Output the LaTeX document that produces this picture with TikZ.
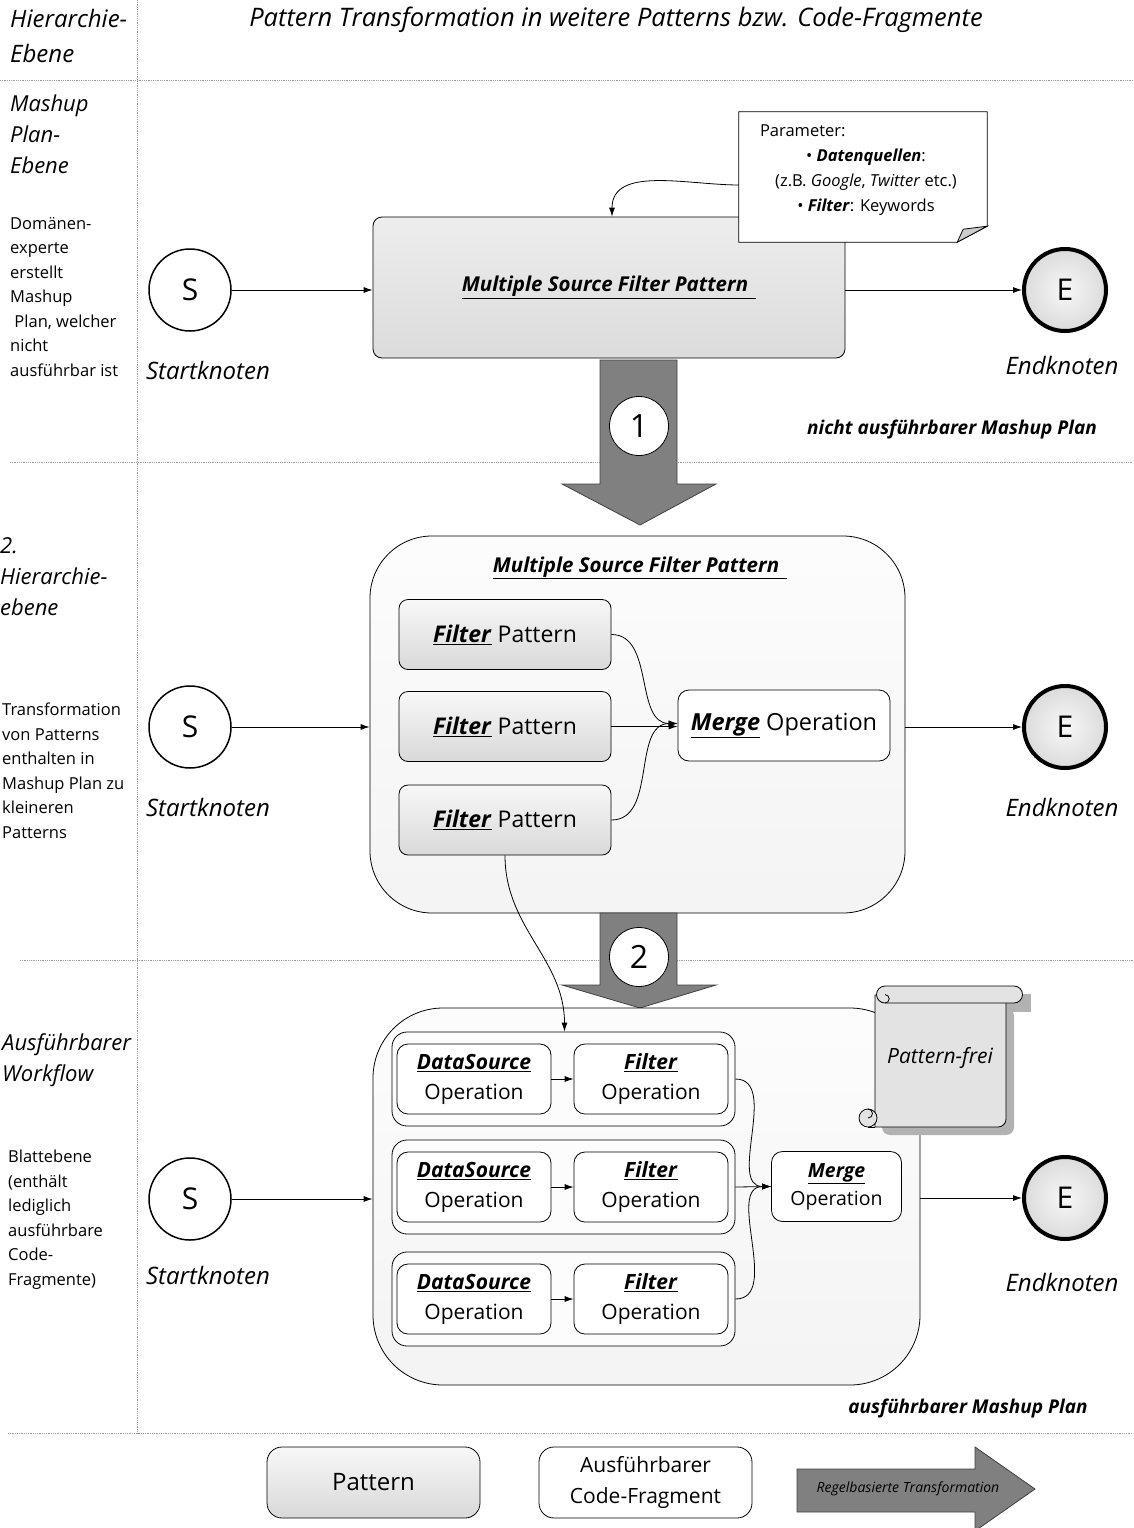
\documentclass[tikz,border=0pt]{standalone}
\usepackage{fontspec}
\setmainfont{Open Sans}
\usetikzlibrary{arrows.meta}
\newcommand{\fsz}[2]{\fontsize{#1}{#2}\selectfont}
\newcommand{\kw}[1]{\underline{\textbf{\textit{#1}}}}
\tikzset{
  sepline/.style={densely dotted, gray!80, line width=0.8pt},
  lvltitle/.style={anchor=north west, align=left, inner sep=0pt, font=\fsz{22}{31}\itshape},
  lvltext/.style={anchor=north west, align=left, inner sep=0pt, font=\fsz{16.5}{24.5}},
  knot/.style={circle, draw, line width=1.5pt, minimum size=82pt, inner sep=0pt, font=\fsz{30}{36}},
  startknot/.style={knot, fill=white},
  endknot/.style={knot, line width=4pt, inner color=gray!6, outer color=gray!28},
  knotlabel/.style={font=\fsz{24}{30}\itshape},
  patbox/.style={draw, rounded corners=9pt, top color=gray!6, bottom color=gray!30, line width=0.8pt},
  opbox/.style={draw, rounded corners=11pt, fill=white, line width=0.8pt, align=center},
  groupbox/.style={draw, rounded corners=15pt, fill=gray!2, line width=0.8pt, minimum width=343pt, minimum height=94pt},
  bigbox/.style={draw, line width=0.8pt, top color=gray!2, bottom color=gray!9},
  conn/.style={-{Latex[length=9pt,width=6pt]}, line width=0.8pt},
  bigarrow/.style={draw=black!75, fill=gray, line width=0.8pt},
  numcirc/.style={circle, draw, fill=white, line width=0.8pt, minimum size=59pt, inner sep=0pt, font=\fsz{32}{36}},
  planlabel/.style={font=\fsz{19}{24}\bfseries\itshape},
  scroll/.style={draw, fill=gray!22, line width=0.8pt}
}

\begin{document}
\begin{tikzpicture}[x=1pt, y=-1pt]
\useasboundingbox (0,0) rectangle (1133,1528);
\draw[sepline] (137,0) -- (137,1434);
\draw[sepline] (0,80) -- (1133,80);
\draw[sepline] (10,462) -- (1133,462);
\draw[sepline] (20,960) -- (1133,960);
\draw[sepline] (8,1433) -- (1133,1433);

\node[lvltitle, font=\fsz{24}{35}\itshape] at (10,9) {Hierarchie-\\Ebene};
\node[font=\fsz{25.5}{30}\itshape] (title) at (616,20) {Pattern Transformation in weitere Patterns bzw. Code-Fragmente};

\node[lvltitle] at (10,95) {Mashup\\Plan-\\Ebene};
\node[lvltext] at (10,217) {Domänen-\\experte\\erstellt\\Mashup\\\ Plan, welcher\\nicht\\ausführbar ist};
\node[startknot] (s1) at (190,290) {S};
\node[knotlabel] at (208,370) {Startknoten};
\node[patbox, top color=gray!14, bottom color=gray!28, minimum width=472pt, minimum height=141pt, font=\fsz{20.5}{24}] (msf) at (609,287.5) {\underline{\textbf{\textit{Multiple Source Filter Pattern}}\hspace{8pt}}};
\node[endknot] (e1) at (1065,290) {E};
\node[knotlabel] at (1062,365) {Endknoten};
\draw[conn] (s1) -- (s1 -| msf.west);
\draw[conn] (msf.east |- e1) -- (e1);

\path (863,177) node[minimum width=248pt, minimum height=130pt] (note) {};
\draw[line width=0.8pt, fill=white] (note.north west) -- (note.north east) -- ([yshift=16pt]note.south east) -- ([xshift=-30pt]note.south east) -- (note.south west) -- cycle;
\draw[line width=0.8pt, fill=gray!40] ([xshift=-30pt]note.south east) -- ([xshift=-24pt, yshift=13pt]note.south east) -- ([yshift=16pt]note.south east) -- cycle;
\node[align=center, font=\fsz{16.5}{25}] at (866,170) {\makebox[212pt][l]{Parameter:}\\
  • \textbf{\textit{Datenquellen}}:\\
  (z.B. \textit{Google}, \textit{Twitter} etc.)\\
  • \textbf{\textit{Filter}}: Keywords};
\draw[conn] ([yshift=-8pt]note.west) to[out=180, in=90] ([xshift=3pt]msf.north);

\draw[bigarrow] (600,360) -- (677,360) -- (677,484) -- (716,484) -- (640,525) -- (562,484) -- (600,484) -- cycle;
\node[numcirc] (n1) at (639,426) {1};
\node[planlabel] at (952,430) {nicht ausführbarer Mashup Plan};

\node[lvltitle] at (0,537) {2.\\Hierarchie-\\ebene};
\node[lvltext] at (2,703) {Transformation\\von Patterns\\enthalten in\\Mashup Plan zu\\kleineren\\Patterns};
\node[startknot] (s2) at (190,727) {S};
\node[knotlabel] at (208,807) {Startknoten};
\node[bigbox, rounded corners=62pt, minimum width=535pt, minimum height=377pt] (msf2) at (637.5,724.5) {};
\node[font=\fsz{20.5}{24}] (msf2title) at (640,568) {\underline{\textbf{\textit{Multiple Source Filter Pattern}}\hspace{8pt}}};
\foreach \y [count=\i] in {634.5,726.5,820} {
  \node[patbox, minimum width=212pt, minimum height=70pt, font=\fsz{23}{28}] (fp\i) at (505,\y) {\kw{Filter} Pattern};
}
\node[opbox, minimum width=212pt, minimum height=71pt, font=\fsz{23.5}{28}] (mop) at (784,725.5) {\kw{Merge} Operation};
\draw[conn] (fp1.east) to[out=0, in=180] ([yshift=2pt]mop.west);
\draw[conn] (fp2.east) -- (fp2.east -| mop.west);
\draw[conn] (fp3.east) to[out=0, in=180] ([yshift=2pt]mop.west);
\node[endknot] (e2) at (1065,727) {E};
\node[knotlabel] at (1062,807) {Endknoten};
\draw[conn] (s2) -- (s2 -| msf2.west);
\draw[conn] (msf2.east |- e2) -- (e2);

\draw[bigarrow] (600,913) -- (677,913) -- (677,985) -- (716,985) -- (640,1008) -- (562,985) -- (600,985) -- cycle;
\node[numcirc] (n2) at (639,957) {2};

\node[lvltitle] at (2,1033) {Ausführbarer\\Workflow};
\node[lvltext] at (8,1150) {Blattebene\\(enthält\\lediglich\\ausführbare\\Code-\\Fragmente)};
\node[startknot] (s3) at (190,1199) {S};
\node[knotlabel] at (208,1275) {Startknoten};
\node[bigbox, rounded corners=70pt, minimum width=547pt, minimum height=377pt] (wf) at (646.5,1196.5) {};
\foreach \y [count=\i] in {1079,1187,1299} {
  \node[groupbox] (grp\i) at (563.5,\y) {};
  \node[opbox, minimum width=154pt, minimum height=70pt, font=\fsz{21}{30}] (ds\i) at (474,\y) {\kw{DataSource}\\Operation};
  \node[opbox, minimum width=154pt, minimum height=70pt, font=\fsz{21}{30}] (fo\i) at (651,\y) {\kw{Filter}\\Operation};
  \draw[conn] (ds\i) -- (fo\i);
}
\node[opbox, minimum width=130pt, minimum height=70pt, font=\fsz{19.5}{28}] (mop3) at (836.5,1186.5) {\kw{Merge}\\Operation};
\draw[conn] (grp1.east) to[out=0, in=180] (mop3.west);
\draw[conn] (grp2.east) -- (mop3.west);
\draw[conn] (grp3.east) to[out=0, in=180] (mop3.west);
\draw[conn] (fp3.south) to[out=-90, in=90] ([xshift=1pt]grp1.north);
\node[endknot] (e3) at (1065,1198) {E};
\node[knotlabel] at (1062,1282) {Endknoten};
\draw[conn] (s3) -- (s3 -| wf.west);
\draw[conn] (wf.east |- e3) -- (e3);

\fill[gray!60] (1000,994) rectangle (1031,1012);
\fill[gray!60, rounded corners=8pt] (882,1008) rectangle (1014,1135);
\draw[scroll] (875,995) -- (875,1127) [rounded corners=8pt] -- (1006,1127) -- (1006,995) [sharp corners] -- cycle;
\draw[scroll] (885,986) -- (1014,986) arc[start angle=-90, end angle=90, radius=8.5] -- (885,1003) arc[start angle=90, end angle=270, radius=8.5];
\draw[line width=0.8pt] (885,1003) arc[start angle=90, end angle=-90, radius=4.2] -- (885,994.6);
\draw[scroll] (868,1118) circle (9);
\draw[line width=0.8pt] (868,1127) -- (875,1127);
\draw[line width=0.8pt] (868,1109) arc[start angle=-90, end angle=90, radius=4.5];
\node[font=\fsz{21}{26}\itshape] (pf) at (940,1058) {Pattern-frei};
\node[planlabel] at (968,1408) {ausführbarer Mashup Plan};

\node[patbox, minimum width=213pt, minimum height=71pt, rounded corners=15pt, font=\fsz{24}{30}] (lgpat) at (373.5,1482.5) {Pattern};
\node[opbox, minimum width=213pt, minimum height=71pt, rounded corners=15pt, font=\fsz{21}{31}] (lgcode) at (645.5,1482.5) {Ausführbarer\\Code-Fragment};
\draw[bigarrow] (797,1469) -- (975,1469) -- (975,1447) -- (1035,1489) -- (975,1531) -- (975,1512) -- (797,1512) -- cycle;
\node[font=\fsz{14}{18}\itshape] (lgtrans) at (908,1489) {Regelbasierte Transformation};
\end{tikzpicture}
\end{document}
